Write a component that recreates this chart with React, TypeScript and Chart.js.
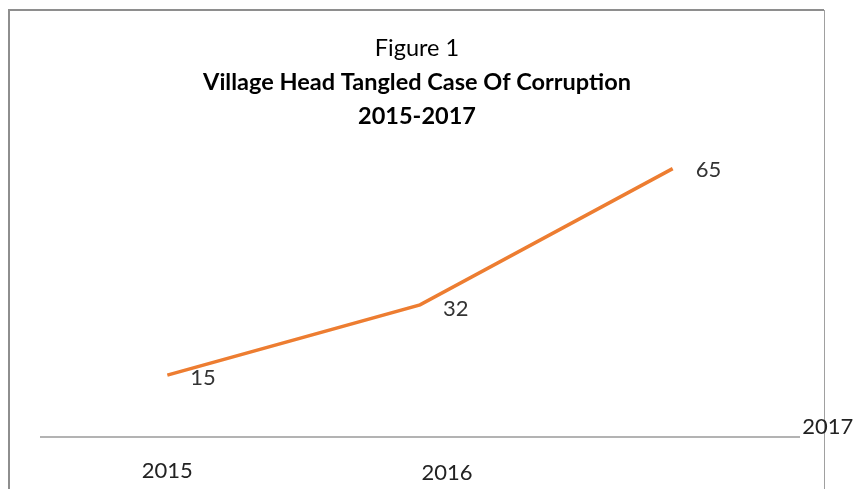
import React, { useEffect, useRef } from "react";
import { Chart, registerables } from "chart.js";
Chart.register(...registerables);

const categories = ["2015", "2016", "2017"];
const cases = [15, 32, 65];
const titleLines = ["Figure 1", "Village Head Tangled Case Of Corruption", "2015-2017"];

const FONT = "Lato, 'Open Sans', sans-serif";

export default function App() {
  const ref = useRef<HTMLCanvasElement>(null);
  useEffect(() => {
    if (!ref.current) return;
    const framePlugin = {
      id: "frame",
      beforeDraw(chart: any) {
        const ctx = chart.ctx;
        ctx.save();
        ctx.fillStyle = "#ffffff";
        ctx.fillRect(0, 0, chart.width, chart.height);
        ctx.strokeStyle = "#8e8e8e";
        ctx.lineWidth = 2;
        ctx.beginPath();
        ctx.moveTo(9, 489);
        ctx.lineTo(9, 10);
        ctx.lineTo(824, 10);
        ctx.stroke();
        ctx.lineWidth = 1;
        ctx.strokeStyle = "#a0a0a0";
        ctx.beginPath();
        ctx.moveTo(824.5, 10);
        ctx.lineTo(824.5, 489);
        ctx.stroke();
        ctx.restore();
      },
    };
    const textPlugin = {
      id: "texts",
      afterDraw(chart: any) {
        const ctx = chart.ctx;
        const xs = chart.scales.x;
        const meta = chart.getDatasetMeta(0);
        ctx.save();
        ctx.textAlign = "center";
        ctx.textBaseline = "middle";
        ctx.fillStyle = "#000000";
        ctx.font = `23.5px ${FONT}`;
        ctx.fillText(titleLines[0], 417, 48);
        ctx.font = `bold 23.5px ${FONT}`;
        ctx.fillText(titleLines[1], 417, 82);
        ctx.fillText(titleLines[2], 417, 116);
        // tick labels
        const dx = [0, 27, 155];
        const ys = [471, 473, 427];
        ctx.font = `22px ${FONT}`;
        ctx.fillStyle = "#222222";
        categories.forEach((c, i) => {
          ctx.fillText(c, xs.getPixelForValue(i) + dx[i], ys[i]);
        });
        // data labels
        ctx.textAlign = "left";
        ctx.fillStyle = "#333333";
        const dy = [3, 4, 1];
        meta.data.forEach((p: any, i: number) => {
          ctx.fillText(String(cases[i]), p.x + 23, p.y + dy[i]);
        });
        ctx.restore();
      },
    };
    const chart = new Chart(ref.current, {
      type: "line",
      data: {
        labels: categories,
        datasets: [
          {
            data: cases,
            borderColor: "#ED7D31",
            borderWidth: 3.5,
            pointRadius: 0,
            tension: 0,
            fill: false,
          },
        ],
      },
      options: {
        responsive: false,
        animation: false,
        layout: { padding: { left: 41, right: 58, top: 148, bottom: 52 } },
        plugins: { legend: { display: false }, tooltip: { enabled: false }, title: { display: false } },
        scales: {
          x: {
            offset: true,
            grid: { display: false, drawTicks: false },
            ticks: { display: false },
            border: { display: true, color: "#b3b3b3", width: 2 },
          },
          y: {
            display: false,
            min: 0,
            max: 70,
          },
        },
      },
      plugins: [framePlugin, textPlugin],
    });
    return () => chart.destroy();
  }, []);
  return (
    <div style={{ position: "absolute", left: 0, top: 0, width: 857, height: 489 }}>
      <canvas ref={ref} width={857} height={489} />
    </div>
  );
}
